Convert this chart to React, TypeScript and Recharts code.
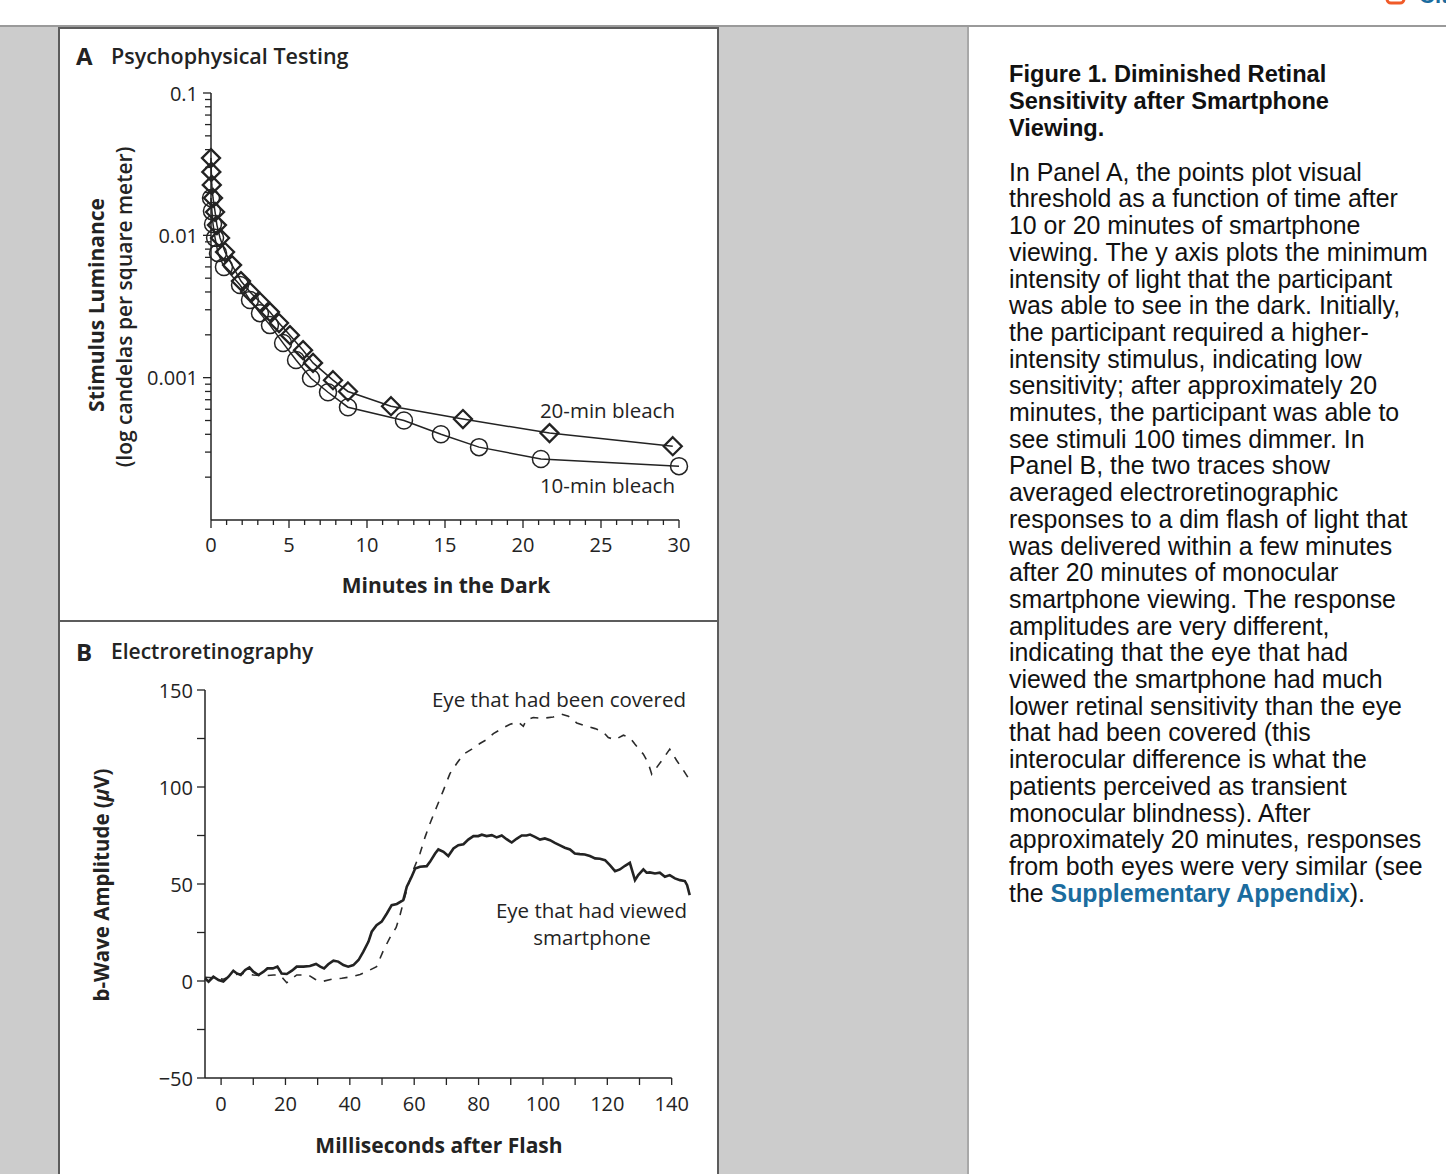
import React from "react";
import { LineChart, Line, XAxis, YAxis, ReferenceLine } from "recharts";

// Panel A: thresholds during dark adaptation (minutes in the dark, cd/m2)
const bleach20Minutes = [0, 0.02, 0.05, 0.13, 0.26, 0.38, 0.58, 0.9, 1.35, 1.92, 2.5, 3.14, 3.78, 4.36, 5.06, 5.9, 6.54, 7.82, 8.78, 11.54, 16.15, 21.7, 29.6];
const bleach20Luminance = [0.0349, 0.0279, 0.0226, 0.0183, 0.0146, 0.0118, 0.00957, 0.00763, 0.00618, 0.00477, 0.004, 0.0034, 0.00289, 0.00242, 0.00199, 0.00156, 0.00127, 0.00096, 0.0008, 0.00063, 0.000512, 0.000408, 0.00033];

const bleach10Minutes = [0, 0.06, 0.13, 0.26, 0.45, 0.83, 1.86, 2.5, 3.14, 3.78, 4.62, 5.45, 6.41, 7.5, 8.78, 12.37, 14.74, 17.18, 21.15, 30];
const bleach10Luminance = [0.0183, 0.0148, 0.012, 0.0096, 0.0075, 0.006, 0.00448, 0.00351, 0.00284, 0.00234, 0.00175, 0.00133, 0.00099, 0.00079, 0.00062, 0.0005, 0.0004, 0.000325, 0.000268, 0.000239];

const minuteTicks = [0, 1, 2, 3, 4, 5, 6, 7, 8, 9, 10, 11, 12, 13, 14, 15, 16, 17, 18, 19, 20, 21, 22, 23, 24, 25, 26, 27, 28, 29, 30];
const minuteLabels = [0, 5, 10, 15, 20, 25, 30];
const lumMajorTicks = [0.001, 0.01, 0.1];
const lumMinorTicks = [
  0.0002, 0.0003, 0.0004, 0.0005, 0.0006, 0.0007, 0.0008, 0.0009,
  0.002, 0.003, 0.004, 0.005, 0.006, 0.007, 0.008, 0.009,
  0.02, 0.03, 0.04, 0.05, 0.06, 0.07, 0.08, 0.09,
];

// Panel B: averaged ERG traces (ms after flash, microvolts)
const viewedMs = [-5, -3.9, -2.4, -0.8, 0.7, 2.3, 3.8, 4.9, 6.1, 7.5, 8.8, 10.0, 11.6, 13.2, 14.4, 16.1, 17.5, 18.8, 20.4, 22.0, 23.5, 25.6, 27.6, 29.5, 30.8, 32.0, 33.3, 34.9, 36.4, 38.0, 39.5, 41.1, 42.7, 44.2, 45.8, 46.8, 48.3, 49.9, 51.5, 53.0, 54.6, 56.6, 57.7, 59.2, 60.3, 61.8, 63.9, 64.9, 66.5, 67.5, 69.1, 70.6, 72.2, 73.7, 75.3, 76.8, 78.4, 79.9, 81.0, 82.5, 84.1, 85.6, 87.2, 88.7, 90.3, 91.8, 93.4, 94.9, 96.0, 97.5, 99.1, 100.6, 102.2, 103.7, 105.3, 106.8, 108.4, 109.9, 111.5, 113.0, 114.6, 116.2, 117.7, 119.3, 120.8, 122.4, 123.9, 125.5, 127.0, 128.6, 129.6, 131.2, 132.2, 133.2, 134.8, 136.3, 137.9, 139.4, 141.0, 142.6, 144.1, 144.8, 145.6];
const viewedUv = [1.4, -0.3, 2.2, 0.5, -0.3, 2.2, 5.3, 3.9, 3.1, 5.7, 7.0, 4.8, 3.1, 4.8, 6.5, 6.5, 7.4, 3.9, 3.6, 5.3, 7.4, 7.4, 7.7, 8.8, 7.4, 6.5, 8.6, 10.5, 10.0, 8.2, 7.4, 8.2, 10.8, 15.1, 20.3, 25.4, 28.8, 30.6, 34.8, 39.1, 39.7, 41.7, 48.6, 53.7, 58.0, 58.9, 59.2, 61.4, 65.7, 67.8, 66.6, 64.4, 68.3, 70.0, 70.5, 72.9, 74.7, 74.7, 75.4, 74.7, 75.2, 74.0, 75.0, 73.1, 71.4, 73.3, 75.0, 75.0, 75.5, 74.3, 72.9, 73.5, 72.6, 71.2, 69.9, 68.7, 67.8, 65.7, 65.4, 65.2, 64.4, 63.2, 63.0, 62.3, 59.7, 56.6, 57.5, 59.4, 60.9, 52.0, 54.6, 57.5, 55.8, 56.0, 55.4, 55.8, 53.7, 54.6, 52.9, 52.0, 51.5, 49.4, 44.3];

const coveredMs = [-5, -2.4, 0.7, 3.8, 6.9, 10.0, 13.2, 16.3, 18.3, 20.4, 23.5, 27.1, 29.2, 31.3, 34.4, 37.5, 40.6, 43.2, 45.8, 48.3, 50.4, 52.5, 54.4, 55.6, 56.8, 58.2, 59.7, 61.8, 63.4, 64.9, 67.0, 69.1, 71.1, 73.2, 75.3, 77.9, 80.4, 82.5, 84.6, 87.2, 89.8, 92.3, 93.9, 94.9, 97.0, 100.1, 103.2, 105.8, 107.9, 110.5, 113.6, 116.2, 118.7, 120.3, 122.4, 125.0, 127.0, 128.6, 131.2, 132.7, 133.8, 135.3, 137.4, 139.4, 141.5, 143.6, 145.6];
const coveredUv = [1.9, 1.7, 0.9, 3.1, 3.9, 3.1, 2.7, 3.1, 3.1, -0.9, 3.1, 3.1, 0.9, -0.3, 0.9, 1.4, 2.2, 3.4, 5.3, 7.4, 15.6, 22.5, 27.6, 34.0, 41.7, 49.9, 57.2, 65.7, 74.3, 81.2, 89.8, 98.4, 106.9, 112.1, 116.9, 119.5, 122.4, 124.4, 127.5, 130.1, 132.3, 133.5, 131.3, 134.7, 135.8, 135.4, 136.1, 137.5, 136.5, 133.0, 131.3, 130.1, 128.4, 125.5, 124.4, 126.7, 125.5, 122.0, 116.9, 112.4, 106.6, 110.0, 114.7, 119.5, 113.8, 108.7, 103.5];

const msTicks = [0, 10, 20, 30, 40, 50, 60, 70, 80, 90, 100, 110, 120, 130, 140];
const msLabels = [0, 20, 40, 60, 80, 100, 120, 140];
const uvTicks = [-50, -25, 0, 25, 50, 75, 100, 125, 150];
const uvLabels = [-50, 0, 50, 100, 150];

const captionTitle = ["Figure 1. Diminished Retinal", "Sensitivity after Smartphone", "Viewing."];
const captionLines = [
  "In Panel A, the points plot visual",
  "threshold as a function of time after",
  "10 or 20 minutes of smartphone",
  "viewing. The y axis plots the minimum",
  "intensity of light that the participant",
  "was able to see in the dark. Initially,",
  "the participant required a higher-",
  "intensity stimulus, indicating low",
  "sensitivity; after approximately 20",
  "minutes, the participant was able to",
  "see stimuli 100 times dimmer. In",
  "Panel B, the two traces show",
  "averaged electroretinographic",
  "responses to a dim flash of light that",
  "was delivered within a few minutes",
  "after 20 minutes of monocular",
  "smartphone viewing. The response",
  "amplitudes are very different,",
  "indicating that the eye that had",
  "viewed the smartphone had much",
  "lower retinal sensitivity than the eye",
  "that had been covered (this",
  "interocular difference is what the",
  "patients perceived as transient",
  "monocular blindness). After",
  "approximately 20 minutes, responses",
  "from both eyes were very similar (see",
];

const pair = (xs: number[], ys: number[]) => xs.map((t, i) => ({ t, v: ys[i] }));
const bleach20 = pair(bleach20Minutes, bleach20Luminance);
const bleach10 = pair(bleach10Minutes, bleach10Luminance);
const viewed = pair(viewedMs, viewedUv);
const covered = pair(coveredMs, coveredUv);

const FIG_FONT = "'Open Sans', 'Noto Sans', sans-serif";
const CAP_FONT = "'Liberation Sans', Arial, sans-serif";
const INK = "#232323";

const isMajorLum = (v: number) => lumMajorTicks.some((m) => Math.abs(m - v) / m < 1e-6);

const minuteTick = (props: any) => {
  const { x, y, payload } = props;
  const major = minuteLabels.includes(payload.value);
  return (
    <g>
      <line x1={x} x2={x} y1={y} y2={y + (major ? 8 : 5)} stroke={INK} strokeWidth={1.3} />
      {major && (
        <text x={x} y={y + 24} textAnchor="middle" dominantBaseline="central" fontFamily={FIG_FONT} fontSize={20} fill={INK}>
          {payload.value}
        </text>
      )}
    </g>
  );
};

const lumTick = (props: any) => {
  const { x, y, payload } = props;
  const major = isMajorLum(payload.value);
  return (
    <g>
      <line x1={x - (major ? 8 : 6)} x2={x} y1={y} y2={y} stroke={INK} strokeWidth={1.3} />
      {major && (
        <text x={x - 13} y={y} textAnchor="end" dominantBaseline="central" fontFamily={FIG_FONT} fontSize={20} fill={INK}>
          {String(payload.value)}
        </text>
      )}
    </g>
  );
};

const msTick = (props: any) => {
  const { x, y, payload } = props;
  const major = msLabels.includes(payload.value);
  return (
    <g>
      <line x1={x} x2={x} y1={y} y2={y + 7} stroke={INK} strokeWidth={1.3} />
      {major && (
        <text x={x} y={y + 25} textAnchor="middle" dominantBaseline="central" fontFamily={FIG_FONT} fontSize={20} fill={INK}>
          {payload.value}
        </text>
      )}
    </g>
  );
};

const uvTick = (props: any) => {
  const { x, y, payload } = props;
  const major = uvLabels.includes(payload.value);
  const label = payload.value < 0 ? `\u2212${Math.abs(payload.value)}` : String(payload.value);
  return (
    <g>
      <line x1={x - 8} x2={x} y1={y} y2={y} stroke={INK} strokeWidth={1.3} />
      {major && (
        <text x={x - 12} y={y} textAnchor="end" dominantBaseline="central" fontFamily={FIG_FONT} fontSize={20} fill={INK}>
          {label}
        </text>
      )}
    </g>
  );
};

const circleDot = (props: any) => {
  const { cx, cy, index } = props;
  if (cx == null || cy == null) return <g key={index} />;
  return <circle key={index} cx={cx} cy={cy} r={8.5} fill="none" stroke={INK} strokeWidth={1.5} />;
};

const diamondDot = (props: any) => {
  const { cx, cy, index } = props;
  if (cx == null || cy == null) return <g key={index} />;
  const s = 9;
  return (
    <path
      key={index}
      d={`M${cx},${cy - s} L${cx + s},${cy} L${cx},${cy + s} L${cx - s},${cy} Z`}
      fill="none"
      stroke={INK}
      strokeWidth={2.3}
    />
  );
};

function PanelA() {
  return (
    <div style={{ position: "absolute", left: 60, top: 27 }}>
      <LineChart width={658} height={595} margin={{ top: 66, right: 39, bottom: 72, left: 91 }}>
        <XAxis
          type="number"
          dataKey="t"
          domain={[0, 30]}
          ticks={minuteTicks}
          interval={0}
          tick={minuteTick}
          tickLine={false}
          tickSize={0}
          tickMargin={0}
          height={30}
          axisLine={{ stroke: INK, strokeWidth: 1.5 }}
        />
        <YAxis
          type="number"
          scale="log"
          domain={[0.0001, 0.1]}
          ticks={[...lumMinorTicks, ...lumMajorTicks]}
          interval={0}
          tick={lumTick}
          tickLine={false}
          tickSize={0}
          tickMargin={0}
          width={60}
          axisLine={{ stroke: INK, strokeWidth: 1.5 }}
        />
        <Line data={bleach10} dataKey="v" stroke={INK} strokeWidth={1.5} dot={circleDot} isAnimationActive={false} />
        <Line data={bleach20} dataKey="v" stroke={INK} strokeWidth={1.5} dot={diamondDot} isAnimationActive={false} />
      </LineChart>
    </div>
  );
}

function PanelB() {
  return (
    <div style={{ position: "absolute", left: 60, top: 622 }}>
      <LineChart width={658} height={552} margin={{ top: 68, right: 27, bottom: 66, left: 85 }}>
        <XAxis
          type="number"
          dataKey="t"
          domain={[-5, 146]}
          ticks={msTicks}
          interval={0}
          tick={msTick}
          tickLine={false}
          tickSize={0}
          tickMargin={0}
          height={30}
          axisLine={false}
        />
        <YAxis
          type="number"
          domain={[-50, 150]}
          ticks={uvTicks}
          interval={0}
          tick={uvTick}
          tickLine={false}
          tickSize={0}
          tickMargin={0}
          width={60}
          axisLine={{ stroke: INK, strokeWidth: 1.5 }}
        />
        <ReferenceLine segment={[{ x: -5, y: -50 }, { x: 140, y: -50 }]} stroke={INK} strokeWidth={1.5} />
        <Line data={covered} dataKey="v" stroke="#2b2b2b" strokeWidth={1.6} strokeDasharray="8 8" dot={false} isAnimationActive={false} />
        <Line data={viewed} dataKey="v" stroke={INK} strokeWidth={2.6} dot={false} isAnimationActive={false} />
      </LineChart>
    </div>
  );
}

export default function App() {
  const t = { fontFamily: FIG_FONT, fill: INK };
  return (
    <div
      style={{
        position: "absolute",
        left: 0,
        top: 0,
        width: 1446,
        height: 1174,
        overflow: "hidden",
        background: "#fff",
      }}
    >
      <div style={{ position: "absolute", left: 0, top: 27, width: 968, height: 1147, background: "#cccccc" }} />
      <div style={{ position: "absolute", left: 0, top: 25, width: 1446, height: 2, background: "#9a9a9a" }} />
      <div style={{ position: "absolute", left: 967, top: 27, width: 2, height: 1147, background: "#a8a8a8" }} />
      <div
        style={{
          position: "absolute",
          left: 58,
          top: 27,
          width: 657,
          height: 1160,
          background: "#fff",
          border: "2px solid #5c5c5c",
        }}
      />
      <div style={{ position: "absolute", left: 60, top: 620, width: 657, height: 2, background: "#5c5c5c" }} />

      <PanelA />
      <PanelB />

      <svg width={1446} height={1174} style={{ position: "absolute", left: 0, top: 0, pointerEvents: "none" }}>
        {/* top-right toolbar remnant */}
        <rect x={1387} y={-14} width={17} height={17} rx={4} fill="none" stroke="#f05a28" strokeWidth={3} />
        <text x={1419} y={3} fontFamily={CAP_FONT} fontWeight={700} fontSize={22} fill="#1b6c9e">
          Cit
        </text>

        {/* Panel A */}
        <text x={76} y={55} dominantBaseline="central" fontSize={24} fontWeight={700} {...t}>A</text>
        <text x={111} y={55} dominantBaseline="central" fontSize={21.5} fontWeight={600} {...t}>Psychophysical Testing</text>
        <text transform="translate(96,305) rotate(-90)" textAnchor="middle" dominantBaseline="central" fontSize={21} fontWeight={700} {...t}>
          Stimulus Luminance
        </text>
        <text transform="translate(124,307) rotate(-90)" textAnchor="middle" dominantBaseline="central" fontSize={21} fontWeight={600} {...t}>
          (log candelas per square meter)
        </text>
        <text x={446} y={585} textAnchor="middle" dominantBaseline="central" fontSize={21} fontWeight={700} {...t}>
          Minutes in the Dark
        </text>
        <text x={675} y={410} textAnchor="end" dominantBaseline="central" fontSize={20.5} {...t}>20-min bleach</text>
        <text x={675} y={485} textAnchor="end" dominantBaseline="central" fontSize={20.5} {...t}>10-min bleach</text>

        {/* Panel B */}
        <text x={76} y={651} dominantBaseline="central" fontSize={24} fontWeight={700} {...t}>B</text>
        <text x={111} y={651} dominantBaseline="central" fontSize={21} fontWeight={600} {...t}>Electroretinography</text>
        <text transform="translate(101,885) rotate(-90)" textAnchor="middle" dominantBaseline="central" fontSize={20.5} fontWeight={700} {...t}>
          b-Wave Amplitude (<tspan fontStyle="italic">μ</tspan>V)
        </text>
        <text x={439} y={1145} textAnchor="middle" dominantBaseline="central" fontSize={21} fontWeight={700} {...t}>
          Milliseconds after Flash
        </text>
        <text x={686} y={699} textAnchor="end" dominantBaseline="central" fontSize={20.5} {...t}>Eye that had been covered</text>
        <text x={687} y={910} textAnchor="end" dominantBaseline="central" fontSize={20.5} {...t}>Eye that had viewed</text>
        <text x={592} y={937} textAnchor="middle" dominantBaseline="central" fontSize={20.5} {...t}>smartphone</text>

        {/* caption */}
        {captionTitle.map((line, i) => (
          <text key={line} x={1009} y={81.5 + i * 27} fontFamily={CAP_FONT} fontWeight={700} fontSize={23.6} fill="#111">
            {line}
          </text>
        ))}
        {captionLines.map((line, i) => (
          <text key={line} x={1009} y={180.7 + i * 26.7} fontFamily={CAP_FONT} fontSize={24.9} fill="#111">
            {line}
          </text>
        ))}
        <text x={1009} y={180.7 + 27 * 26.7} fontFamily={CAP_FONT} fontSize={24.9} fill="#111">
          the <tspan fill="#1b6c9e" fontWeight={700}>Supplementary Appendix</tspan>).
        </text>
      </svg>
    </div>
  );
}
